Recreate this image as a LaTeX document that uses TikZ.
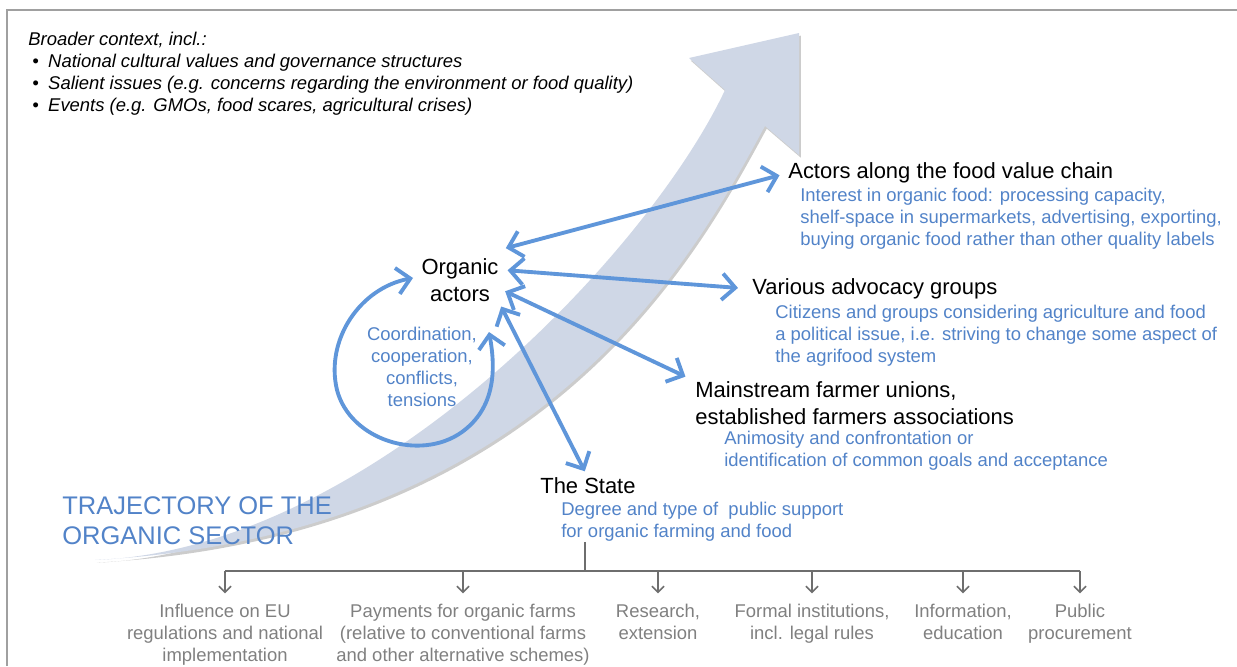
\documentclass[tikz,border=0pt]{standalone}
\usepackage{fontspec}
\setmainfont{Liberation Sans}
\usetikzlibrary{positioning}
\usetikzlibrary{arrows.meta}
\usetikzlibrary{shadows}
\definecolor{bandcol}{RGB}{207,215,230}
\definecolor{linkcol}{RGB}{95,150,218}
\definecolor{desccol}{RGB}{82,131,200}
\definecolor{itemcol}{RGB}{128,128,128}
\definecolor{treecol}{RGB}{110,110,110}
\definecolor{framecol}{RGB}{160,160,160}
\newcommand{\bul}{\makebox[11.3pt][l]{\hspace{2.3pt}\textbullet}}
\tikzset{barb/.tip={Straight Barb[length=7.5pt,width=15pt]}}
\tikzset{vee/.tip={Straight Barb[length=3.5pt,width=7pt]}}
\tikzset{head/.style={inner sep=0pt, anchor=west, align=left, font=\fontsize{12.5}{15.3}\selectfont}}
\tikzset{desc/.style={inner sep=0pt, anchor=west, align=left, text=desccol, font=\fontsize{10.5}{12.5}\selectfont}}
\tikzset{item/.style={inner sep=0pt, anchor=north, align=center, text=itemcol, font=\fontsize{10.5}{12.5}\selectfont}}
\tikzset{link/.style={draw=linkcol, line width=2.2pt, barb-barb}}
\tikzset{branch/.style={draw=treecol, line width=0.9pt}}

\begin{document}
\begin{tikzpicture}[x=0.02cm, y=-0.02cm]
    \useasboundingbox (0,0) rectangle (1237,666);
    \draw[framecol, line width=0.8pt] (7,666) -- (7,10) -- (1237,10);

    % trajectory band
    \fill[bandcol, drop shadow={shadow xshift=1pt, shadow yshift=-1.5pt, opacity=0.2, fill=black}]
      (95,560) .. controls (370,550) and (650,250) .. (725,90)
      -- (689,58) -- (799,33) -- (799,155) -- (765,126)
      .. controls (695,255) and (545,535) .. (95,560) -- cycle;

    \node[inner sep=0pt, anchor=west, align=left, font=\fontsize{10.5}{12.5}\selectfont\itshape] (ctx) at (28,74)
      {Broader context, incl.:\\
       \bul National cultural values and governance structures\\
       \bul Salient issues (e.g. concerns regarding the environment or food quality)\\
       \bul Events (e.g. GMOs, food scares, agricultural crises)};

    \node[head, anchor=center, align=center] (org) at (460,280) {Organic\\actors};
    \node[desc, anchor=center, align=center] (coord) at (422,367) {Coordination,\\cooperation,\\conflicts,\\tensions};

    \node[head] (chain) at (788,173) {Actors along the food value chain};
    \node[desc] (cdesc) at (800,219) {Interest in organic food: processing capacity,\\shelf-space in supermarkets, advertising, exporting,\\buying organic food rather than other quality labels};

    \node[head] (adv) at (752,289) {Various advocacy groups};
    \node[desc] (adesc) at (775,336) {Citizens and groups considering agriculture and food\\a political issue, i.e. striving to change some aspect of\\the agrifood system};

    \node[head] (main) at (695,403) {Mainstream farmer unions,\\established farmers associations};
    \node[desc] (mdesc) at (724,451) {Animosity and confrontation or\\identification of common goals and acceptance};

    \node[head] (state) at (540,486) {The State};
    \node[desc] (sdesc) at (561,522) {Degree and type of\ \ public support\\for organic farming and food};

    \node[desc, font=\fontsize{14.5}{17}\selectfont] (traj) at (62,521) {TRAJECTORY OF THE\\ORGANIC SECTOR};

    \node[item] (g1) at (225,604) {Influence on EU\\regulations and national\\implementation};
    \node[item] (g2) at (463,604) {Payments for organic farms\\(relative to conventional farms\\and other alternative schemes)};
    \node[item] (g3) at (658,604) {Research,\\extension};
    \node[item] (g4) at (812,604) {Formal institutions,\\incl. legal rules};
    \node[item] (g5) at (963,604) {Information,\\education};
    \node[item] (g6) at (1080,604) {Public\\procurement};

    \draw[link, shorten >=5pt] ([shift={(7,-10)}]org.north east) -- (chain.west);
    \draw[link, shorten <=5pt, shorten >=8pt] (org.15) -- (adv.west);
    \draw[link, shorten <=4pt, shorten >=6pt] (org.-12) -- (main.north west);
    \draw[link, shorten <=3pt, shorten >=4pt] (org.south east) -- (state.north);

    \coordinate (loopin) at (413,278);
    \coordinate (loopout) at (489,332);
    \draw[link] (loopin) .. controls (360,288) and (325,340) .. (337,390)
      .. controls (350,440) and (420,462) .. (462,432)
      .. controls (495,408) and (496,370) .. (loopout);

    \coordinate (fork) at (585,571);
    \draw[branch] (sdesc.south -| fork) -- (fork);
    \draw[branch] (g1.north |- fork) -- (g6.north |- fork);
    \foreach \g in {g1,g2,g3,g4,g5,g6}
      \draw[branch, -vee, shorten >=6pt] (\g.north |- fork) -- (\g.north);
\end{tikzpicture}
\end{document}
